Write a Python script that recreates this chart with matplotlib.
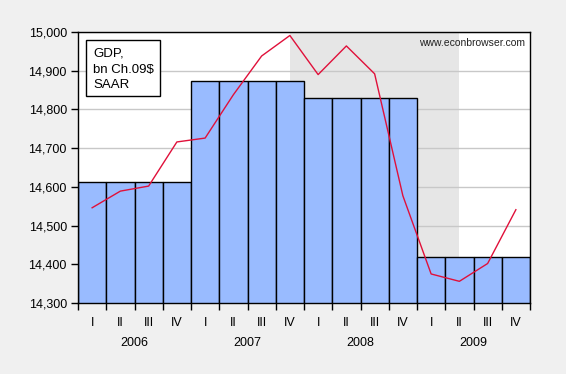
import numpy as np
import matplotlib
matplotlib.use('Agg')
import matplotlib.pyplot as plt
from matplotlib.patches import Rectangle

plt.rcParams['font.family'] = ['Liberation Sans', 'DejaVu Sans']

# data
years = ['2006', '2007', '2008', '2009']
quarters = ['I', 'II', 'III', 'IV']
annual_gdp = [14613, 14873, 14830, 14419]
quarterly_gdp = [14546, 14589, 14602, 14716,
                 14726, 14838, 14938, 14991,
                 14890, 14964, 14892, 14577,
                 14375, 14356, 14402, 14541]
recession = (7.5, 13.5)
label_lines = ['GDP,', 'bn Ch.09$', 'SAAR']

n = len(quarterly_gdp)
x = np.arange(n) + 0.5
bar_vals = np.repeat(annual_gdp, len(quarters))

W, H = 566, 374
fig = plt.figure(figsize=(W / 100, H / 100), dpi=100, facecolor='#f0f0f0')
ax = fig.add_axes([78 / W, 1 - 303 / H, 452 / W, 271 / H])
ax.set_facecolor('white')

ax.axvspan(recession[0], recession[1], color='#e6e6e6', zorder=0, lw=0)
ax.yaxis.grid(True, color='#c8c8c8', lw=1, zorder=0.5)
ax.set_axisbelow(True)

ax.bar(x, bar_vals, width=1.0, color='#99bbff', edgecolor='black', lw=1, zorder=2)
ax.plot(x, quarterly_gdp, color='#e0103a', lw=1, zorder=3)

ax.set_xlim(0, n)
ax.set_ylim(14300, 15000)
ax.set_yticks(np.arange(14300, 15001, 100))
ax.set_yticklabels(['{:,}'.format(v) for v in range(14300, 15001, 100)], fontsize=9)

ax.set_xticks(np.arange(n + 1))
ax.set_xticklabels([])
ax.set_xticks(x, minor=True)
ax.set_xticklabels(quarters * len(years), minor=True, fontsize=9)
ax.tick_params(axis='x', which='major', direction='out', length=5, width=1)
ax.tick_params(axis='x', which='minor', length=0, pad=10)
ax.tick_params(axis='y', direction='out', length=5, width=1, pad=3)

def fy(py):
    # pixel row -> axes fraction
    return (303 - py) / 271

def fx(px):
    return (px - 78) / 452

for i, yr in enumerate(years):
    ax.text(i * 4 + 2, fy(343), yr, transform=ax.get_xaxis_transform(),
            ha='center', va='center', fontsize=9, clip_on=False)

for s in ax.spines.values():
    s.set_linewidth(1)
    s.set_zorder(4)

ax.add_patch(Rectangle((fx(86), fy(96)), fx(160) - fx(86), fy(40) - fy(96),
                       transform=ax.transAxes, fc='white', ec='black', lw=1, zorder=5))
for line, base in zip(label_lines, [57, 73, 88]):
    ax.text(fx(93), fy(base), line, transform=ax.transAxes, ha='left',
            va='baseline', fontsize=9.5, zorder=6)

ax.text(fx(525), fy(42.5), 'www.econbrowser.com', transform=ax.transAxes,
        ha='right', va='center', fontsize=7.5, color='#222222', zorder=5)

plt.savefig('out.png', dpi=100, facecolor=fig.get_facecolor())
